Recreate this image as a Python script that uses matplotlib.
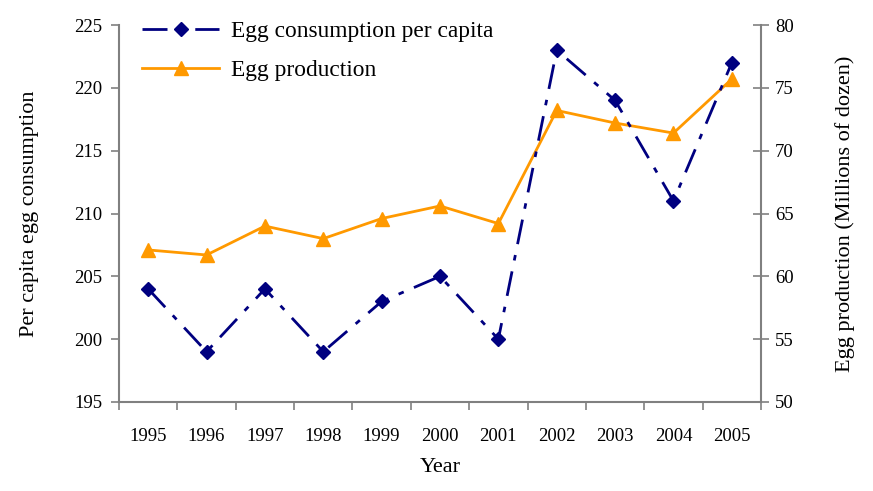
import matplotlib.pyplot as plt
import numpy as np

plt.rcParams['font.family'] = ['Liberation Serif', 'DejaVu Serif']

years = ['1995', '1996', '1997', '1998', '1999', '2000', '2001', '2002', '2003', '2004', '2005']
consumption = [204, 199, 204, 199, 203, 205, 200, 223, 219, 211, 222]
production = [62.1, 61.7, 64.0, 63.0, 64.6, 65.6, 64.2, 73.2, 72.2, 71.4, 75.7]

axis_gray = '#808080'
navy = '#000080'
orange = '#FF9900'

fig = plt.figure(figsize=(8.73, 4.91), dpi=100)
ax = fig.add_axes([119/873, 1-402/491, (761-119)/873, (402-25)/491])
ax2 = ax.twinx()

x = np.arange(len(years))
l1, = ax.plot(x, consumption, color=navy, lw=2, dashes=(9, 4, 2, 4),
              marker='D', ms=7, mfc=navy, mec=navy, zorder=3)
l2, = ax2.plot(x, production, color=orange, lw=2,
               marker='^', ms=10, mfc=orange, mec=orange, zorder=2)

ax.set_xlim(-0.5, len(years) - 0.5)
ax.set_ylim(195, 225)
ax.set_yticks(np.arange(195, 226, 5))
ax2.set_ylim(50, 80)
ax2.set_yticks(np.arange(50, 81, 5))

# category boundaries as ticks, labels centred
ax.set_xticks(np.arange(-0.5, len(years), 1))
ax.set_xticklabels([])
ax.set_xticks(x, minor=True)
ax.set_xticklabels(years, minor=True)
ax.tick_params(axis='x', which='major', direction='out', length=6, color=axis_gray, width=1.2)
ax.tick_params(axis='x', which='minor', length=0, pad=19, labelsize=13.5)
ax.tick_params(axis='y', direction='out', length=6, color=axis_gray, width=1.2, labelsize=13.5, pad=6)
ax2.tick_params(axis='y', direction='inout', length=12, color=axis_gray, width=1.2, labelsize=13.5, pad=4)

for a in (ax, ax2):
    a.spines['top'].set_visible(False)
    for s in ('left', 'right', 'bottom'):
        a.spines[s].set_color(axis_gray)
        a.spines[s].set_linewidth(1.5)
ax.spines['right'].set_visible(False)
ax2.spines['left'].set_visible(False)
ax2.spines['bottom'].set_visible(False)
ax.set_zorder(ax2.get_zorder() + 1)
ax.patch.set_visible(False)

ax.set_xlabel('Year', fontsize=16, labelpad=9)
ax.set_ylabel('Per capita egg consumption', fontsize=16, labelpad=25)
ax2.set_ylabel('Egg production (Millions of dozen)', fontsize=16, labelpad=30)

fig.legend([l1, l2], ['Egg consumption per capita', 'Egg production'],
           loc='upper left', bbox_to_anchor=(121/873, 1.0), frameon=False,
           fontsize=16.8, handlelength=3.3, labelspacing=0.75, handletextpad=0.5)

fig.savefig('out.png', dpi=100)
